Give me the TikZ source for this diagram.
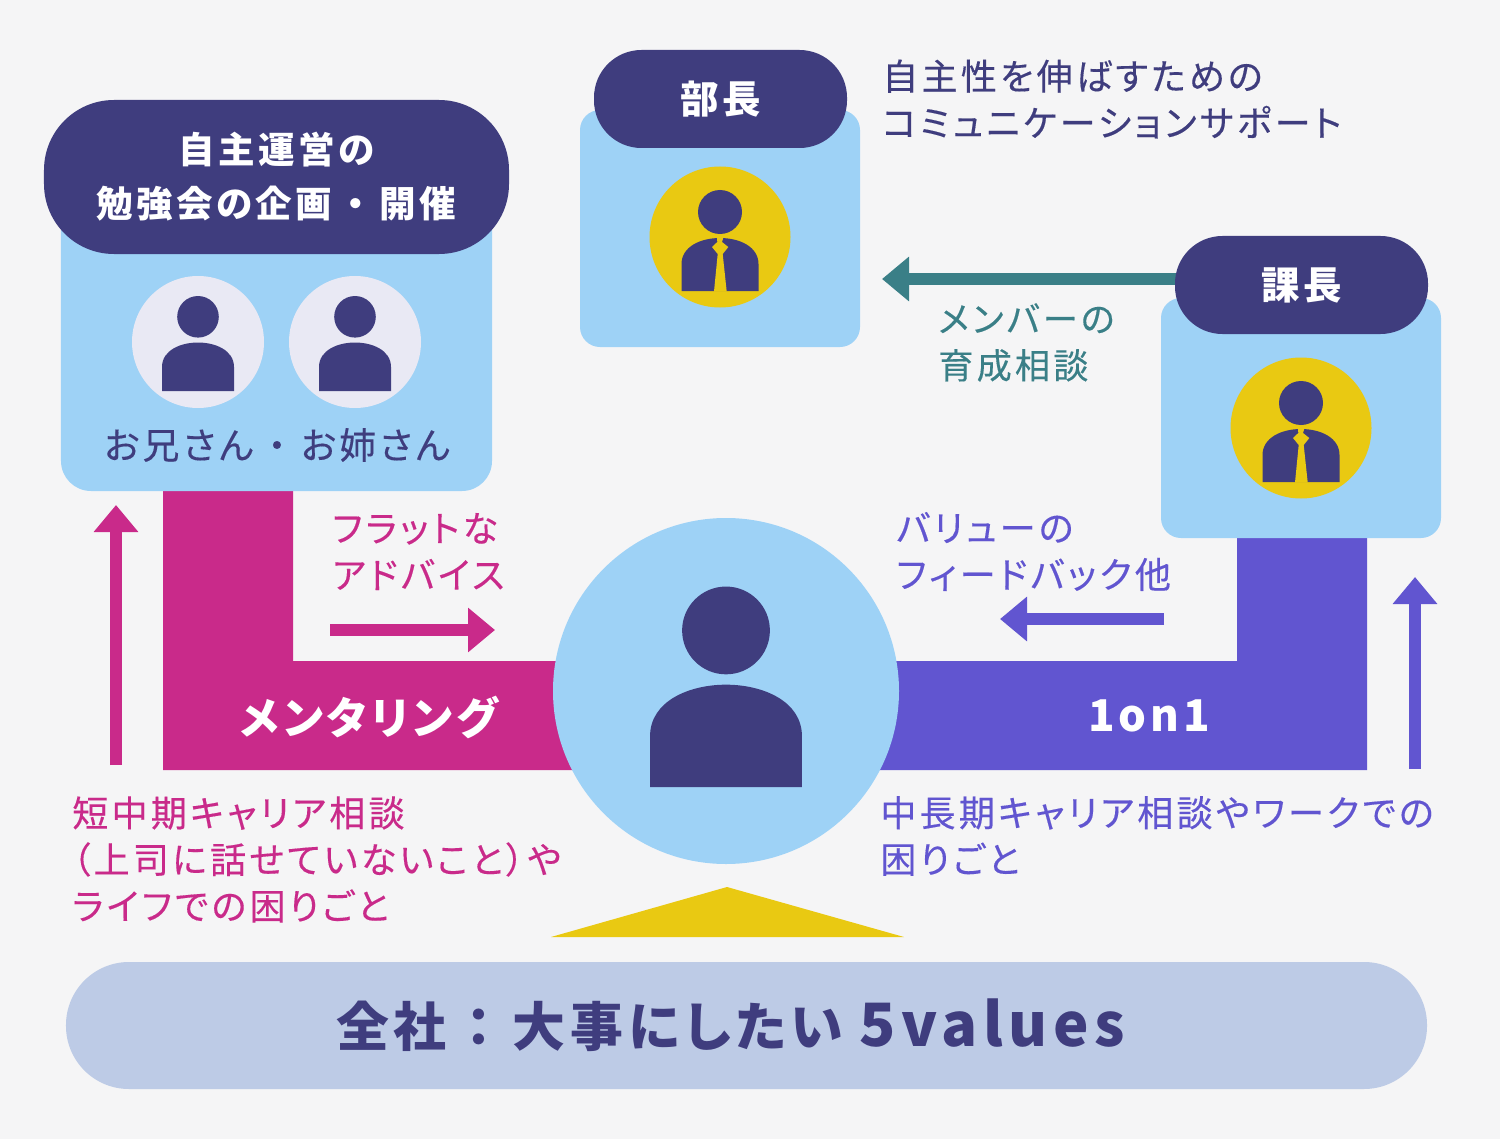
\documentclass[tikz,border=0pt]{standalone}
\usepackage{fontspec}
\setmainfont{Noto Sans CJK JP}[RawFeature={+palt},LetterSpace=9]
\newfontfamily\noteFont{Noto Sans CJK JP}[RawFeature={+palt},LetterSpace=9,FakeBold=0.3]
\newcommand{\wideDot}{\hspace{0.4em}・\hspace{0.4em}}
\usetikzlibrary{
  arrows.meta,
  positioning
}
\definecolor{pageGray}{HTML}{F5F5F6}
\definecolor{teamNavy}{HTML}{3F3D7E}
\definecolor{teamSky}{HTML}{9ED2F6}
\definecolor{teamPink}{HTML}{C92A8A}
\definecolor{teamViolet}{HTML}{6155D0}
\definecolor{teamTeal}{HTML}{3A7F87}
\definecolor{teamYellow}{HTML}{E9C912}
\definecolor{teamPale}{HTML}{E9E9F4}
\definecolor{teamMist}{HTML}{BDCBE6}
\tikzset{
  skyBox/.style={
    fill=teamSky,
    inner sep=0pt
  },
  navyPill/.style={
    fill=teamNavy,
    text=white,
    align=center,
    inner sep=0pt,
    font=\bfseries\fontsize{20.8}{30.7}\selectfont
  },
  rolePill/.style={
    navyPill,
    rounded corners=9.5mm,
    minimum width=50.6mm,
    minimum height=19.6mm,
    font=\bfseries\fontsize{21.9}{30.7}\selectfont
  },
  faceCircle/.style={circle, inner sep=0pt, minimum size=28.2mm, fill=teamYellow},
  peerCircle/.style={circle, inner sep=0pt, minimum size=26.4mm, fill=teamPale},
  noteText/.style={
    anchor=west,
    align=left,
    inner sep=0pt,
    font=\noteFont\fontsize{20.5}{26.5}\selectfont
  },
  bandLabel/.style={
    text=white,
    inner sep=0pt,
    font=\bfseries\fontsize{24.9}{30}\selectfont
  },
  flowArrow/.style={
    line width=2.4mm,
    -{Triangle[length=5.4mm, width=8.6mm]}
  },
  personPlain/.pic={
    \fill[teamNavy] (0,-74.2) circle (20.8);
    \fill[teamNavy] (-36,0) -- (-36,-24)
      .. controls (-36,-41) and (-17,-48.5) .. (0,-48.5)
      .. controls (17,-48.5) and (36,-41) .. (36,-24)
      -- (36,0) -- cycle;
  },
  personTie/.pic={
    \fill[teamNavy] (0,-79) circle (22);
    \fill[teamNavy] (-38.5,0) -- (-38.5,-27)
      .. controls (-38.5,-44) and (-20,-53) .. (0,-53)
      .. controls (20,-53) and (38.5,-44) .. (38.5,-27)
      -- (38.5,0) -- cycle;
    \fill[teamYellow] (-3,-54) -- (3.5,-54) -- (2,-49) -- (8.3,-44) -- (2.7,-37)
      -- (6.7,0.5) -- (-6,0.5) -- (-2.3,-37) -- (-8,-44) -- (-2.7,-49) -- cycle;
  }
}

\begin{document}
\begin{tikzpicture}[x=0.2mm,y=-0.2mm]
  \fill[pageGray] (0,0) rectangle (1500,1139);

  % mentoring and 1on1 bands
  \fill[teamPink] (163,480) -- (293,480) -- (293,661) -- (600,661)
    -- (600,770) -- (163,770) -- cycle;
  \fill[teamViolet] (1237,530) -- (1367,530) -- (1367,770) -- (850,770)
    -- (850,661) -- (1237,661) -- cycle;
  \node[bandLabel] (mentorLabel) at (369,717) {メンタリング};
  \node[bandLabel] (oneOnOneLabel) at (1149,716) {1on1};

  % member in the middle
  \node[circle, inner sep=0pt, minimum size=69.2mm, fill=teamSky] (memberCircle) at (726,691) {};
  \pic[scale=2.11] at (726,787) {personPlain};
  \fill[teamYellow] (727,887) -- (904,937) -- (551,937) -- cycle;

  % seniors on the left
  \node[skyBox, rounded corners=6mm, minimum width=86.2mm, minimum height=58.2mm] (seniorBox) at (276.5,345.5) {};
  \node[navyPill, rounded corners=14mm, minimum width=93mm, minimum height=30.8mm] (seniorPill) at (276.5,177)
    {自主運営の\\勉強会の企画\wideDot 開催};
  \node[peerCircle] (brotherCircle) at (198,342) {};
  \node[peerCircle] (sisterCircle) at (355,342) {};
  \pic at (198,391) {personPlain};
  \pic at (355,391) {personPlain};
  \node[font=\noteFont\fontsize{20.9}{26}\selectfont, text=teamNavy, inner sep=0pt] (seniorLabel) at (277,445)
    {お兄さん\wideDot お姉さん};

  % department head
  \node[skyBox, rounded corners=4mm, minimum width=56mm, minimum height=47.4mm] (deptBox) at (720,228.5) {};
  \node[rolePill] (deptPill) at (720.5,99) {部長};
  \node[faceCircle] (deptCircle) at (720,237) {};
  \pic at (720,291) {personTie};
  \node[noteText, text=teamNavy] (deptNote) at (882,99)
    {自主性を伸ばすための\\コミュニケーションサポート};

  % section head
  \coordinate (growthTip) at (882,279);
  \coordinate (growthStart) at (1200,279);
  \draw[flowArrow, teamTeal] (growthStart) -- (growthTip);
  \node[skyBox, rounded corners=4mm, minimum width=56mm, minimum height=48mm] (sectionBox) at (1301,418) {};
  \node[rolePill] (sectionPill) at (1301.5,285) {課長};
  \node[faceCircle] (sectionCircle) at (1301,428) {};
  \pic at (1301,482) {personTie};
  \node[noteText, text=teamTeal, font=\noteFont\fontsize{20}{26.5}\selectfont] (growthNote) at (938,342.5)
    {メンバーの\\育成相談};

  % notes and arrows around the bands
  \coordinate (adviceStart) at (330,630);
  \coordinate (adviceTip) at (495,630);
  \draw[flowArrow, teamPink] (adviceStart) -- (adviceTip);
  \node[noteText, text=teamPink] (adviceNote) at (332,551.5)
    {フラットな\\アドバイス};

  \coordinate (feedbackStart) at (1164,619);
  \coordinate (feedbackTip) at (1000,619);
  \draw[flowArrow, teamViolet] (feedbackStart) -- (feedbackTip);
  \node[noteText, text=teamViolet] (feedbackNote) at (896,551.5)
    {バリューの\\フィードバック他};

  \coordinate (mentorStart) at (116,765);
  \coordinate (mentorTip) at (116,505);
  \draw[flowArrow, teamPink] (mentorStart) -- (mentorTip);
  \node[noteText, text=teamPink] (mentorNote) at (72,859.5)
    {短中期キャリア相談\\（上司に話せていないこと）や\\ライフでの困りごと};

  \coordinate (careerStart) at (1415,769);
  \coordinate (careerTip) at (1415,577);
  \draw[flowArrow, teamViolet] (careerStart) -- (careerTip);
  \node[noteText, text=teamViolet] (careerNote) at (880,836)
    {中長期キャリア相談やワークでの\\困りごと};

  % company values
  \node[fill=teamMist, rounded corners=12.6mm, minimum width=272.2mm, minimum height=25.4mm, inner sep=0pt] (valuesPill) at (746.5,1025.5) {};
  \node[text=teamNavy, inner sep=0pt, font=\bfseries\fontsize{30.1}{38}\selectfont] (valuesLabel) at (730.5,1025)
    {全社\hspace{0.35em}：\hspace{0.4em}大事にしたい {\fontsize{34}{38}\selectfont 5values}};
\end{tikzpicture}
\end{document}
